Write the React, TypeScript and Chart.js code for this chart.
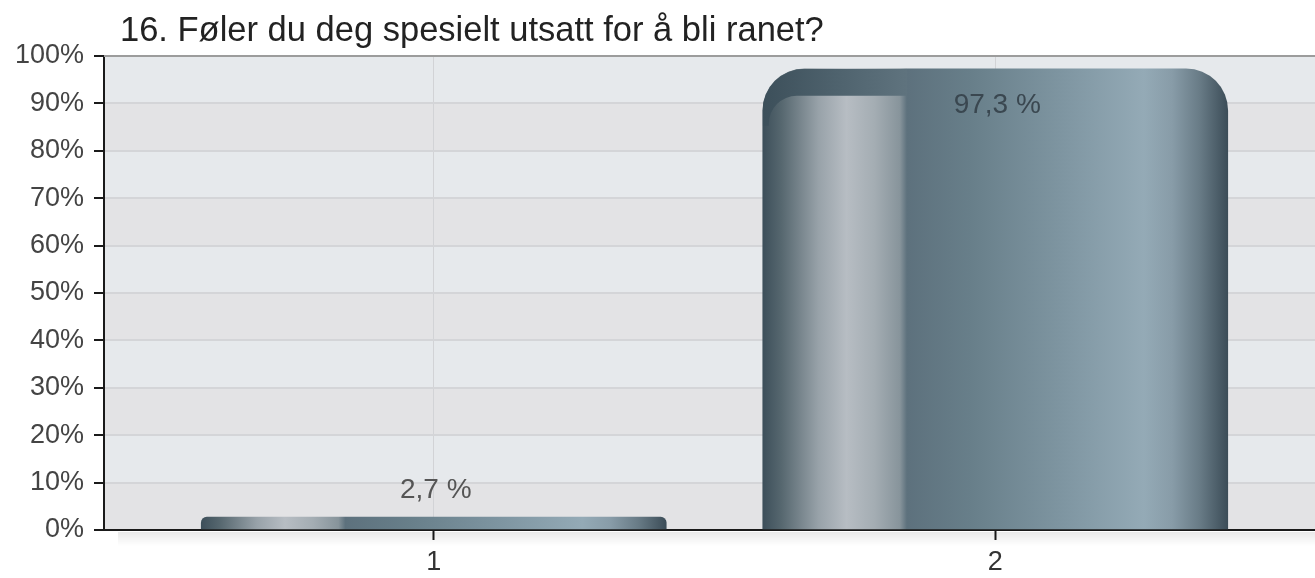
import React, { useEffect, useRef } from 'react';
import { Chart, registerables } from 'chart.js';

Chart.register(...registerables);

// ---- data ----
const title = '16. Føler du deg spesielt utsatt for å bli ranet?';
const categories = ['1', '2'];
const values = [2.7, 97.3];
const valueLabels = ['2,7 %', '97,3 %'];
const yTickValues = [0, 10, 20, 30, 40, 50, 60, 70, 80, 90, 100];
const yTickLabels = ['0%', '10%', '20%', '30%', '40%', '50%', '60%', '70%', '80%', '90%', '100%'];

// ---- styles ----
const FONT = '"Liberation Sans", Arial, Helvetica, sans-serif';
const BAR_STOPS: [number, string][] = [
  [0, '#3d4f5a'],
  [0.04, '#56676f'],
  [0.12, '#98a2a9'],
  [0.18, '#b7bdc3'],
  [0.24, '#a4adb3'],
  [0.295, '#87949b'],
  [0.31, '#5d717d'],
  [0.45, '#687f8a'],
  [0.65, '#7f96a2'],
  [0.82, '#94aab6'],
  [0.88, '#889ca8'],
  [0.94, '#687b86'],
  [1, '#3c4d58'],
];

const bgPlugin = {
  id: 'bgBands',
  beforeDraw(chart: any) {
    const { ctx, chartArea } = chart;
    const ys = chart.scales.y;
    ctx.save();
    for (let i = 0; i < yTickValues.length - 1; i++) {
      const y0 = ys.getPixelForValue(yTickValues[i]);
      const y1 = ys.getPixelForValue(yTickValues[i + 1]);
      ctx.fillStyle = i % 2 === 0 ? '#e3e3e5' : '#e6e9ec';
      ctx.fillRect(chartArea.left, y1, chartArea.right - chartArea.left, y0 - y1);
    }
    ctx.restore();
  },
  afterDraw(chart: any) {
    const { ctx, chartArea } = chart;
    ctx.save();
    ctx.strokeStyle = '#9c9c9c';
    ctx.lineWidth = 2;
    ctx.beginPath();
    ctx.moveTo(chartArea.left, chartArea.top);
    ctx.lineTo(chartArea.right, chartArea.top);
    ctx.stroke();
    const g = ctx.createLinearGradient(0, chartArea.bottom + 1, 0, chartArea.bottom + 16);
    g.addColorStop(0, 'rgba(0,0,0,0.09)');
    g.addColorStop(1, 'rgba(0,0,0,0)');
    ctx.fillStyle = g;
    ctx.fillRect(chartArea.left + 14, chartArea.bottom + 2, chartArea.right - chartArea.left, 14);
    ctx.fillStyle = '#222';
    ctx.font = `34.5px ${FONT}`;
    ctx.textAlign = 'left';
    ctx.textBaseline = 'middle';
    ctx.fillText(title, 120, 31);
    ctx.restore();
  },
};

const barDecorPlugin = {
  id: 'barDecor',
  afterDatasetsDraw(chart: any) {
    const { ctx, chartArea } = chart;
    const meta = chart.getDatasetMeta(0);
    ctx.save();
    meta.data.forEach((bar: any, i: number) => {
      const left = bar.x - bar.width / 2;
      const top = bar.y;
      const h = bar.base - bar.y;
      if (h > 80) {
        const r = 42;
        ctx.save();
        ctx.beginPath();
        ctx.roundRect(left, top, bar.width, h, [r, r, 0, 0]);
        ctx.clip();
        const w1 = bar.width * 0.31;
        const band = 27;
        const g = ctx.createLinearGradient(left, 0, left + w1, 0);
        g.addColorStop(0, '#3c4f5a');
        g.addColorStop(0.5, '#4e626d');
        g.addColorStop(1, '#5f737e');
        ctx.fillStyle = g;
        ctx.beginPath();
        ctx.rect(left, top, w1, band + 30);
        ctx.roundRect(left + 6, top + band, w1 - 6, 30, [28, 0, 0, 0]);
        ctx.fill('evenodd');
        ctx.restore();
      }
      ctx.font = `28px ${FONT}`;
      ctx.textAlign = 'center';
      ctx.textBaseline = 'middle';
      let ly = top - 27;
      if (ly < chartArea.top + 30) {
        ly = top + 36;
        ctx.fillStyle = '#3a4750';
      } else {
        ctx.fillStyle = '#555';
      }
      ctx.fillText(valueLabels[i], bar.x + 2, ly);
    });
    ctx.restore();
  },
};

export default function App() {
  const ref = useRef<HTMLCanvasElement>(null);
  useEffect(() => {
    if (!ref.current) return;
    const chart = new Chart(ref.current, {
      type: 'bar',
      data: {
        datasets: [
          {
            data: values.map((v, i) => ({ x: i + 1, y: v })),
            barThickness: 465,
            borderRadius: { topLeft: 42, topRight: 42 },
            borderSkipped: 'start',
            backgroundColor: (ctx: any) => {
              const ch = ctx.chart;
              const xs = ch.scales && ch.scales.x;
              if (!xs || ctx.dataIndex === undefined) return '#6f8591';
              const cx = xs.getPixelForValue(ctx.dataIndex + 1);
              if (!Number.isFinite(cx)) return '#6f8591';
              const l = cx - 232.5;
              const g = ch.ctx.createLinearGradient(l, 0, l + 465, 0);
              BAR_STOPS.forEach(([o, c]) => g.addColorStop(o, c));
              return g;
            },
          },
        ],
      },
      options: {
        animation: false,
        responsive: true,
        maintainAspectRatio: false,
        layout: { padding: { top: 56, left: 0, right: 0, bottom: 0 } },
        plugins: {
          legend: { display: false },
          title: { display: false },
          tooltip: { enabled: false },
        },
        scales: {
          x: {
            type: 'linear',
            offset: false,
            min: 0.4128,
            max: 2.5694,
            afterBuildTicks: (scale: any) => {
              scale.ticks = categories.map((_, i) => ({ value: i + 1 }));
            },
            afterFit: (scale: any) => {
              scale.height = 48;
            },
            ticks: {
              callback: (v: any) => categories[Math.round(Number(v)) - 1] ?? '',
              font: { family: FONT, size: 27 },
              color: '#333',
              padding: 6,
              maxRotation: 0,
            },
            grid: {
              offset: false,
              color: '#d2d3d6',
              lineWidth: 1,
              tickLength: 10,
              tickColor: '#1a1a1a',
              tickWidth: 2,
            },
            border: { display: true, color: '#1a1a1a', width: 2 },
          },
          y: {
            min: 0,
            max: 100,
            afterBuildTicks: (scale: any) => {
              scale.ticks = yTickValues.map((v) => ({ value: v }));
            },
            afterFit: (scale: any) => {
              scale.width = 104;
            },
            ticks: {
              callback: (_v: any, idx: number) => yTickLabels[idx],
              font: { family: FONT, size: 27 },
              color: '#444',
              padding: 10,
            },
            grid: {
              color: '#d4d5d8',
              lineWidth: 2,
              tickLength: 10,
              tickColor: '#1a1a1a',
              tickWidth: 2,
            },
            border: { display: true, color: '#1a1a1a', width: 2 },
          },
        },
      },
      plugins: [bgPlugin, barDecorPlugin],
    } as any);
    return () => chart.destroy();
  }, []);
  return (
    <div style={{ position: 'fixed', left: 0, top: 0, width: 1315, height: 578, background: '#fff' }}>
      <canvas ref={ref} />
    </div>
  );
}
